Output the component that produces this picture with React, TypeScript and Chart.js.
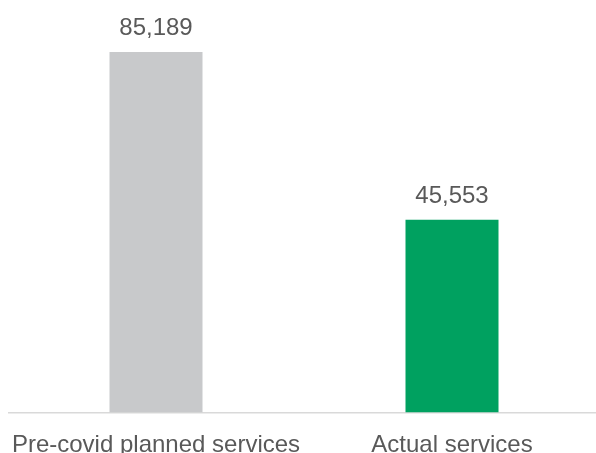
import React, { useEffect, useRef } from "react";
import { Chart, registerables } from "chart.js";

Chart.register(...registerables);

const categories = ["Pre-covid planned services", "Actual services"];
const values = [85189, 45553];
const barColors = ["#c8c9cb", "#00a160"];

const FONT = '"Liberation Sans", Arial, sans-serif';
const TEXT = "#595959";

const valueLabels = {
  id: "valueLabels",
  afterDatasetsDraw(chart: any) {
    const ctx = chart.ctx;
    const meta = chart.getDatasetMeta(0);
    ctx.save();
    ctx.font = `24px ${FONT}`;
    ctx.fillStyle = TEXT;
    ctx.textAlign = "center";
    ctx.textBaseline = "alphabetic";
    meta.data.forEach((bar: any, i: number) => {
      const v = chart.data.datasets[0].data[i] as number;
      ctx.fillText(v.toLocaleString("en-US"), bar.x, bar.y - 17);
    });
    ctx.restore();
  },
};

export default function App() {
  const ref = useRef<HTMLCanvasElement>(null);
  useEffect(() => {
    if (!ref.current) return;
    const chart = new Chart(ref.current, {
      type: "bar",
      data: {
        labels: categories,
        datasets: [
          {
            data: values,
            backgroundColor: barColors,
            borderWidth: 0,
            categoryPercentage: 1,
            barPercentage: 0.3142,
          },
        ],
      },
      options: {
        animation: false,
        responsive: false,
        maintainAspectRatio: false,
        layout: { padding: 0 },
        plugins: {
          legend: { display: false },
          tooltip: { enabled: false },
        },
        scales: {
          x: {
            grid: { display: false },
            border: { display: true, color: "#d9d9d9", width: 1.5 },
            ticks: {
              color: TEXT,
              font: { family: FONT, size: 24 },
              padding: 10,
              maxRotation: 0,
              autoSkip: false,
            },
            afterFit: (s: any) => {
              s.height = 40.5;
              s.paddingLeft = 0;
              s.paddingRight = 0;
            },
          },
          y: {
            display: false,
            min: 0,
            max: 97476,
          },
        },
      },
      plugins: [valueLabels],
    });
    return () => chart.destroy();
  }, []);
  return (
    <div
      style={{
        position: "absolute",
        left: 8,
        top: 0,
        width: 588,
        height: 453,
        overflow: "hidden",
      }}
    >
      <canvas ref={ref} width={592} height={453} style={{ display: "block" }} />
    </div>
  );
}
